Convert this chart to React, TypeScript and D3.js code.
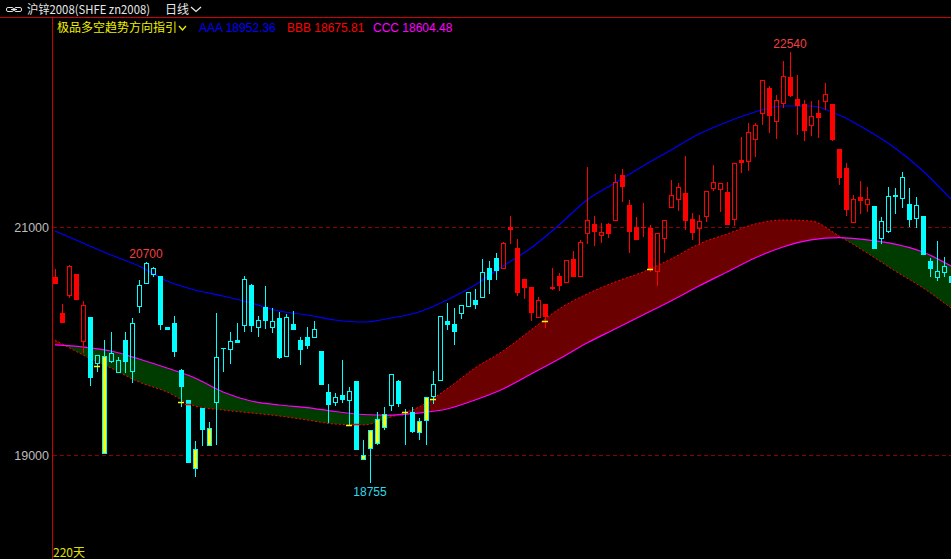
import React from "react";
import * as d3 from "d3";

const W = 951;
const H = 559;

// ---- candle data (price) ----
const opens = [20565,20250,20400,20590,19995,20215,19800,19870,19820,19725,20010,19735,20300,20505,20580,20575,20125,20160,19750,19485,19055,19415,19240,19460,19940,19920,20010,20130,20495,20120,20300,20120,20205,19865,20150,20010,20040,20030,19915,19555,19460,19525,19480,19650,19005,19220,19320,19360,19435,19650,19380,19380,19300,19510,19510,19655,20180,20150,20240,20305,20360,20380,20645,20730,20635,21005,20820,20545,20475,20205,20325,20475,20575,20510,20720,20560,20945,21030,20920,21030,21055,21460,21195,21005,21005,20995,20610,20900,21170,21240,21300,21075,20985,21090,21340,21330,21310,21065,21590,21575,21765,21995,22220,21925,22085,22320,22125,22080,21890,22005,22100,22080,21685,21520,21040,21265,21200,21185,20895,20960,21285,21250,21205,21075,21100,20705,20555,20600,20575];
const highs = [20635,20325,20665,20590,20355,20215,19880,20010,20080,19860,20080,20205,20540,20700,20655,20575,20125,20220,19755,19485,19125,19415,19290,20250,19940,20080,20160,20575,20505,20220,20485,20295,20255,20240,20265,20040,20125,20180,19915,19625,19545,19835,19595,19650,19135,19220,19380,19425,19715,19660,19405,19425,19325,19510,19740,20220,20340,20295,20320,20430,20460,20720,20705,20775,20870,21100,20895,20545,20475,20390,20325,20645,20600,20715,20790,20890,21530,21100,21040,21040,21470,21510,21240,21090,21215,21020,20950,21065,21415,21390,21625,21125,21110,21320,21545,21390,21395,21565,21790,21915,21915,22290,22240,22160,22460,22540,22335,22115,22110,22115,22265,22080,21685,21565,21285,21405,21355,21185,21090,21355,21345,21485,21345,21265,21100,20730,20880,20740,20575];
const lows = [20500,20160,20380,20360,19895,19610,19735,19010,19810,19725,19720,19635,20250,20505,20565,20095,20095,19865,19425,18935,18810,19080,19085,19090,19735,19805,19985,20085,20085,20040,20110,20075,19845,19865,20100,19790,19930,20030,19615,19285,19435,19460,19255,19050,18955,18755,19090,19220,19390,19425,19090,19195,19135,19090,19450,19655,20100,19965,20200,20305,20285,20380,20415,20540,20635,20855,20400,20370,20180,20205,20120,20450,20445,20510,20565,20560,20855,20840,20860,20905,21055,21225,20775,20890,20915,20610,20485,20775,21170,21145,20975,20890,20845,21045,21320,21130,21020,21010,21480,21490,21620,21895,21830,21775,22045,22145,21810,21760,21805,21785,22025,21755,21370,21100,21040,21120,21130,20810,20855,20950,21120,21165,21005,20995,20755,20565,20525,20565,20510];
const closes = [20505,20160,20660,20360,20320,19680,19880,19010,19895,19835,19820,20160,20495,20685,20645,20145,20095,19910,19600,18935,18880,19220,19085,19860,19940,20005,19985,20545,20135,20185,20180,20180,19855,20215,20100,19925,19960,20110,19615,19445,19510,19485,19565,19050,18955,19055,19100,19240,19715,19450,19380,19205,19195,19305,19625,20220,20145,20085,20320,20430,20315,20610,20540,20620,20860,20975,20420,20470,20250,20360,20210,20455,20485,20715,20565,20870,21065,20955,20960,20940,21395,21350,20960,20890,20990,20625,20950,21065,21285,21355,21055,20950,21055,21320,21395,21390,21020,21565,21565,21835,21895,22290,21980,22115,22325,22150,22065,21845,21975,21960,22170,21765,21435,21155,21250,21235,21250,20810,21055,21275,21270,21440,21065,21195,20755,20635,20615,20660,20510];

// trend colouring: red stretches (first..last bar index), yellow signal bars
const redStart = [0, 64];
const redEnd = [4, 116];
const yellowIdx = [7, 20, 22, 44, 45, 46, 47, 52, 53];

// ---- indicator lines, sampled every 4 bars ----
const lineIdx = d3.range(0, 129, 4);
const aaa = [20968,20862,20757,20660,20529,20450,20397,20336,20266,20231,20187,20169,20204,20257,20362,20494,20660,20818,21020,21240,21389,21538,21678,21818,21924,22011,22064,22064,21985,21854,21696,21494,21248];
const bbb = [20011,19880,19766,19643,19555,19432,19397,19371,19345,19310,19274,19266,19336,19424,19582,19766,19915,20099,20283,20415,20520,20608,20722,20854,20941,21029,21064,21055,20924,20775,20617,20468,20292];
const ccc = [19968,19950,19915,19845,19766,19678,19555,19476,19441,19419,19384,19358,19353,19371,19406,19485,19582,19713,19845,19985,20108,20231,20354,20485,20608,20731,20827,20889,20910,20889,20853,20783,20660];

// ---- small signal marks ----
const markIdx = [6, 18, 19, 42, 43, 50, 54, 70, 85];
const markVal = [19783, 19467, 19450, 19266, 19275, 19380, 19494, 20178, 20634];
const markTone = ["y", "y", "r", "y", "r", "y", "y", "y", "y"];

// ---- price annotations ----
const noteIdx = [13, 105, 45];
const noteVal = [20700, 22540, 18755];
const noteSide = ["above", "above", "below"];

const yTicks = [21000, 19000];

const RED = "#ff0000";
const CYAN = "#00ffff";
const YELLOW = "#ffff00";
const CJK = "'Noto Sans CJK SC', 'Liberation Sans', sans-serif";
const SANS = "'Liberation Sans', Arial, sans-serif";

function toneOf(i: number) {
  if (yellowIdx.includes(i)) return "y";
  for (let k = 0; k < redStart.length; k++) {
    if (i >= redStart[k] && i <= redEnd[k]) return "r";
  }
  return "c";
}

export default function App() {
  const x = d3.scaleLinear().domain([0, 128]).range([55, 951]);
  const y = d3.scaleLinear().domain([19000, 21000]).range([455.3, 227.3]);

  const pts = lineIdx.map((i, k) => ({ x: x(i), a: y(aaa[k]), b: y(bbb[k]), c: y(ccc[k]) }));
  const curve = d3.curveMonotoneX;
  const band = d3.area<any>().x(d => d.x).y0(d => d.c).y1(d => d.b).curve(curve)(pts) || "";
  const aboveC = d3.area<any>().x(d => d.x).y0(d => d.c).y1(() => 0).curve(curve)(pts) || "";
  const belowC = d3.area<any>().x(d => d.x).y0(d => d.c).y1(() => H).curve(curve)(pts) || "";
  const line = (key: string) => d3.line<any>().x(d => d.x).y(d => d[key]).curve(curve)(pts) || "";

  const candles = opens.map((o, i) => {
    const c = closes[i];
    const cx = Math.round(x(i));
    const yo = Math.round(y(o));
    const yc = Math.round(y(c));
    const yh = Math.round(y(highs[i]));
    const yl = Math.round(y(lows[i]));
    const top = Math.min(yo, yc);
    const bot = Math.max(yo, yc);
    const t = toneOf(i);
    const col = t === "r" ? RED : CYAN;
    const up = c > o;
    const wx = cx + 0.5;
    if (t === "y") {
      return (
        <g key={i}>
          <line x1={wx} x2={wx} y1={yh} y2={top} stroke={CYAN} />
          <line x1={wx} x2={wx} y1={bot} y2={yl} stroke={CYAN} />
          <rect x={cx - 1.5} y={top + 0.5} width={4} height={Math.max(bot - top - 1, 1)} fill={YELLOW} stroke={CYAN} />
        </g>
      );
    }
    if (up) {
      return (
        <g key={i}>
          <line x1={wx} x2={wx} y1={yh} y2={top} stroke={col} />
          <line x1={wx} x2={wx} y1={bot} y2={yl} stroke={col} />
          <rect x={cx - 1.5} y={top + 0.5} width={4} height={Math.max(bot - top - 1, 1)} fill="none" stroke={col} />
        </g>
      );
    }
    return (
      <g key={i}>
        <line x1={wx} x2={wx} y1={yh} y2={yl} stroke={col} />
        <rect x={cx - 2} y={top} width={5} height={Math.max(bot - top, 1)} fill={col} />
      </g>
    );
  });

  return (
    <svg
      width={W}
      height={H}
      viewBox={`0 0 ${W} ${H}`}
      style={{ position: "fixed", left: 0, top: 0, background: "#000", display: "block" }}
    >
      <defs>
        <clipPath id="plot">
          <rect x={53} y={18} width={W - 53} height={H - 18} />
        </clipPath>
        <clipPath id="aboveC">
          <path d={aboveC} />
        </clipPath>
        <clipPath id="belowC">
          <path d={belowC} />
        </clipPath>
      </defs>
      <rect x={0} y={0} width={W} height={H} fill="#000" />

      {/* header */}
      <g>
        <rect x={6.5} y={7.5} width={7} height={4} rx={1.5} fill="none" stroke="#e0e0e0" />
        <rect x={14.5} y={7.5} width={7} height={4} rx={1.5} fill="none" stroke="#e0e0e0" />
        <line x1={11} x2={17} y1={9.5} y2={9.5} stroke="#e0e0e0" />
        <text x={27} y={13.5} fill="#e8e8e8" fontSize={12} fontFamily={CJK} textLength={123} lengthAdjust="spacingAndGlyphs">
          沪锌2008(SHFE zn2008)
        </text>
        <text x={165} y={13.5} fill="#e8e8e8" fontSize={12} fontFamily={CJK}>日线</text>
        <path d="M191 7 L196 11.5 L201 7" fill="none" stroke="#e8e8e8" strokeWidth={1.3} />
      </g>
      <line x1={0} x2={W} y1={17.5} y2={17.5} stroke="#d00000" />
      <line x1={52.5} x2={52.5} y1={17} y2={H} stroke="#d00000" />

      {/* legend */}
      <g>
        <text x={57} y={32} fill="#f0f000" fontSize={12} fontFamily={CJK}>极品多空趋势方向指引</text>
        <path d="M179 26 L182.5 30 L186 26" fill="none" stroke="#f0f000" strokeWidth={1.3} />
        <text x={199} y={31.5} fill="#0000ff" fontSize={12} fontFamily={SANS}>AAA 18952.36</text>
        <text x={287} y={31.5} fill="#ff0000" fontSize={12} fontFamily={SANS}>BBB 18675.81</text>
        <text x={373} y={31.5} fill="#ff00ff" fontSize={12} fontFamily={SANS}>CCC 18604.48</text>
      </g>

      {/* y axis */}
      {yTicks.map(v => (
        <g key={v}>
          <line x1={53} x2={W} y1={Math.round(y(v)) + 0.5} y2={Math.round(y(v)) + 0.5} stroke="#8c0000" strokeDasharray="4 3" />
          <text x={49} y={y(v) + 4.5} textAnchor="end" fill="#bdbdbd" fontSize={12.5} fontFamily={SANS}>{v}</text>
        </g>
      ))}

      <g clipPath="url(#plot)">
        {/* ribbon */}
        <path d={band} fill="#6b0000" clipPath="url(#aboveC)" />
        <path d={band} fill="#003c00" clipPath="url(#belowC)" />
        <path d={line("b")} fill="none" stroke="#ff0000" strokeWidth={1} strokeDasharray="2 2" />
        <path d={line("c")} fill="none" stroke="#ff00ff" strokeWidth={1.2} />
        <path d={line("a")} fill="none" stroke="#0000ff" strokeWidth={1.1} />

        {candles}

        {markIdx.map((i, k) => (
          <line
            key={k}
            x1={Math.round(x(i)) - 3}
            x2={Math.round(x(i)) + 3}
            y1={Math.round(y(markVal[k])) + 0.5}
            y2={Math.round(y(markVal[k])) + 0.5}
            stroke={markTone[k] === "y" ? YELLOW : RED}
            strokeWidth={1.5}
          />
        ))}

        {noteIdx.map((i, k) => {
          const above = noteSide[k] === "above";
          const yy = y(noteVal[k]) + (above ? -4 : 12.5);
          return (
            <text
              key={k}
              x={x(i)}
              y={yy}
              textAnchor="middle"
              fontSize={12}
              fontFamily={SANS}
              fill={above ? "#f04040" : "#30d8e8"}
            >
              {noteVal[k]}
            </text>
          );
        })}
      </g>

      <text x={53} y={557} fill="#e0e000" fontSize={12} fontFamily={CJK}>220天</text>
    </svg>
  );
}
